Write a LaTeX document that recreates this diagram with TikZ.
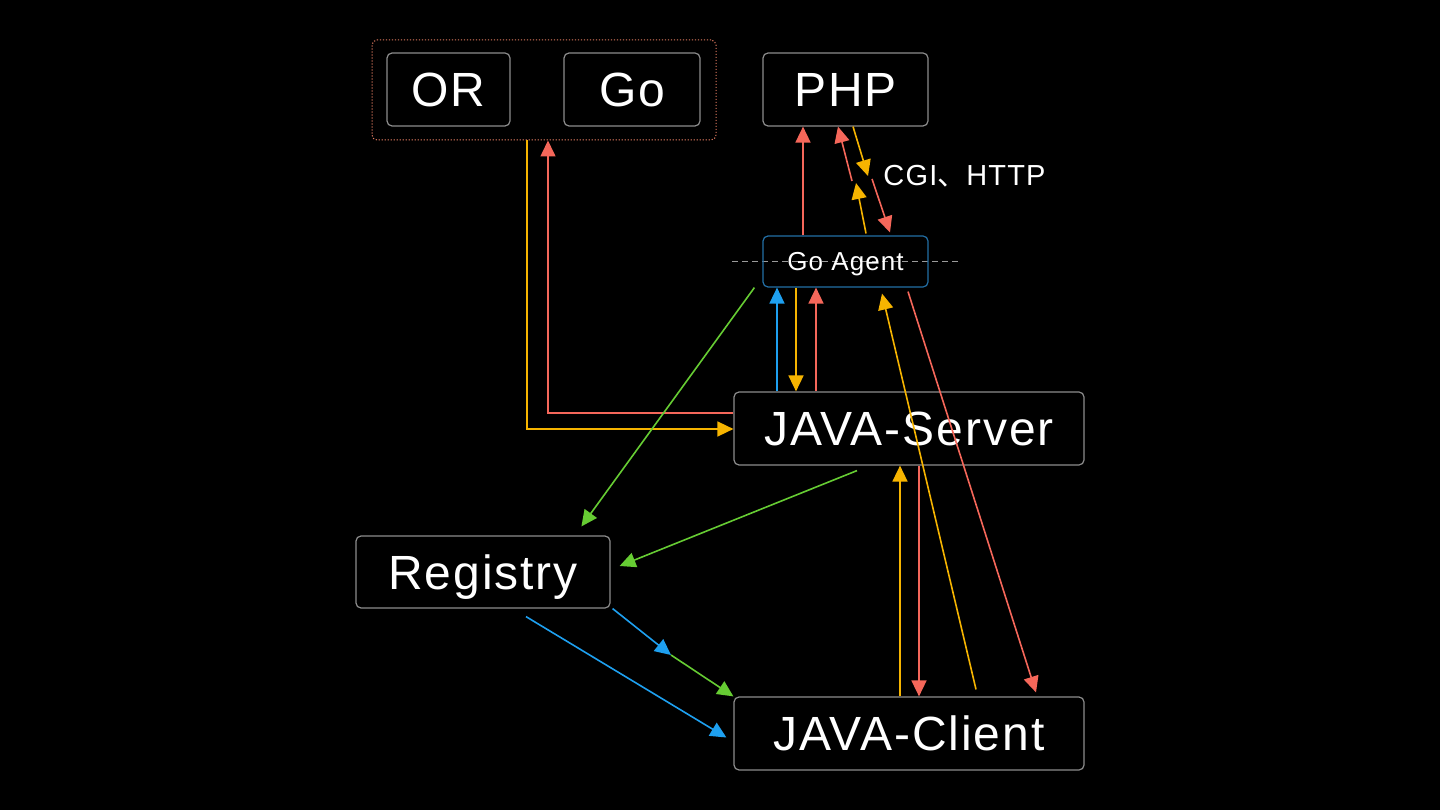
\documentclass[tikz,border=0pt]{standalone}
\usepackage{fontspec}
\setmainfont{Liberation Sans}[LetterSpace=4]
\newfontfamily\cjk{Noto Sans CJK JP}
\usetikzlibrary{arrows.meta,calc}
\definecolor{cred}{HTML}{F5675A}
\definecolor{corg}{HTML}{F6B400}
\definecolor{cblu}{HTML}{1EA0F0}
\definecolor{cgrn}{HTML}{66CC33}
\definecolor{cbox}{HTML}{8C8C8C}
\definecolor{cgab}{HTML}{236FA5}
\definecolor{cgrp}{HTML}{E07A60}
\definecolor{cdash}{HTML}{9A9A9A}
\begin{document}
\begin{tikzpicture}[x=1pt,y=-1pt,
  box/.style={draw=cbox,line width=1.2pt,rounded corners=5pt,fill=black,text=white,inner sep=0pt,
    font=\fontsize{48}{56}\selectfont,text height=34.4pt,text depth=0pt},
  gabox/.style={draw=cgab,line width=1.2pt,rounded corners=5pt,fill=none,text=white,inner sep=0pt,
    font=\fontsize{26}{30}\selectfont,text height=18.6pt,text depth=0pt},
  grp/.style={draw=cgrp,line width=1pt,rounded corners=5pt,dash pattern=on 1.2pt off 1.8pt,inner sep=0pt},
  lbl/.style={text=white,inner sep=0pt,font=\fontsize{29}{34}\selectfont,text height=20.8pt,text depth=0pt},
  gline/.style={draw=cdash,line width=0.9pt,dash pattern=on 6pt off 4pt},
  conn/.style={line width=1.6pt,-{Triangle[length=16pt,width=15pt]}}
]
\fill[black] (0,0) rectangle (1440,810);
\useasboundingbox (0,0) rectangle (1440,810);

% group box
\node[grp, minimum width=344pt, minimum height=100pt] (GRP) at (544,90) {};
\node[box, minimum width=123pt, minimum height=73pt] (OR) at (448.5,89.5) {OR};
\node[box, minimum width=136pt, minimum height=73pt] (GO) at (632,89.5) {Go};
\node[box, minimum width=165pt, minimum height=73pt] (PHP) at (845.5,89.5) {PHP};

% Go Agent with dashed line through it
\coordinate (dl) at (732,261);
\coordinate (dr) at (958,261);
\draw[gline] (dl) -- (dr);
\node[gabox, minimum width=165pt, minimum height=51pt] (GA) at (845.5,261.5) {Go Agent};

\node[box, minimum width=350pt, minimum height=73pt] (JS) at (909,428.5) {JAVA-Server};
\node[box, minimum width=254pt, minimum height=72pt] (REG) at (483,572) {Registry};
\node[box, minimum width=350pt, minimum height=73pt] (JC) at (909,733.5) {JAVA-Client};

\node[lbl] (CGI) at (964.5,175) {CGI{\cjk 、}HTTP};

% OR/Go <-> JAVA-Server
\draw[conn,corg] (527,0 |- GRP.south) |- (JS.west |- 0,429);
\draw[conn,cred] (JS.west |- 0,413) -| (548,0 |- GRP.south);

% Go Agent <-> PHP
\draw[conn,cred] (803,0 |- GA.north) -- (803,0 |- PHP.south);
\coordinate (ru) at (852,181);
\coordinate (rd) at (872,179);
\coordinate (od) at (868,176);
\coordinate (ou) at (856,183);
\draw[conn,cred] (ru) -- (838,0 |- PHP.south);
\draw[conn,cred] (rd) -- ($(890,0 |- GA.north)+(0,-3)$);
\draw[conn,corg] (853,0 |- PHP.south) -- (od);
\draw[conn,corg] ($(866,0 |- GA.north)+(0,-2)$) -- (ou);

% Go Agent <-> JAVA-Server
\draw[conn,cblu] (777,0 |- JS.north) -- (777,0 |- GA.south);
\draw[conn,corg] (796,0 |- GA.south) -- (796,0 |- JS.north);
\draw[conn,cred] (816,0 |- JS.north) -- (816,0 |- GA.south);

% to Registry
\draw[conn,cgrn] ($(GA.south west)+(-8,0)$) -- ($(REG.north west)+(226,-9)$);
\draw[conn,cgrn] ($(JS.south)+(-52,5)$) -- ($(REG.east)+(9,-6)$);

% Go Agent <-> JAVA-Client
\draw[conn,corg] ($(JC.north)+(67,-7)$) -- ($(GA.south)+(36.5,6)$);
\draw[conn,cred] ($(GA.south)+(62.5,4)$) -- ($(JC.north)+(127,-4)$);

% JAVA-Server <-> JAVA-Client
\draw[conn,corg] (900,0 |- JC.north) -- (900,0 |- JS.south);
\draw[conn,cred] (919,0 |- JS.south) -- (919,0 |- JC.north);

% Registry -> JAVA-Client
\coordinate (mid) at (671,655);
\draw[conn,cblu] ($(REG.south east)+(2,0)$) -- (mid);
\draw[conn,cgrn] (mid) -- (JC.north west);
\draw[conn,cblu] ($(REG.south)+(43,8)$) -- ($(JC.west)+(-7,4)$);
\end{tikzpicture}
\end{document}
